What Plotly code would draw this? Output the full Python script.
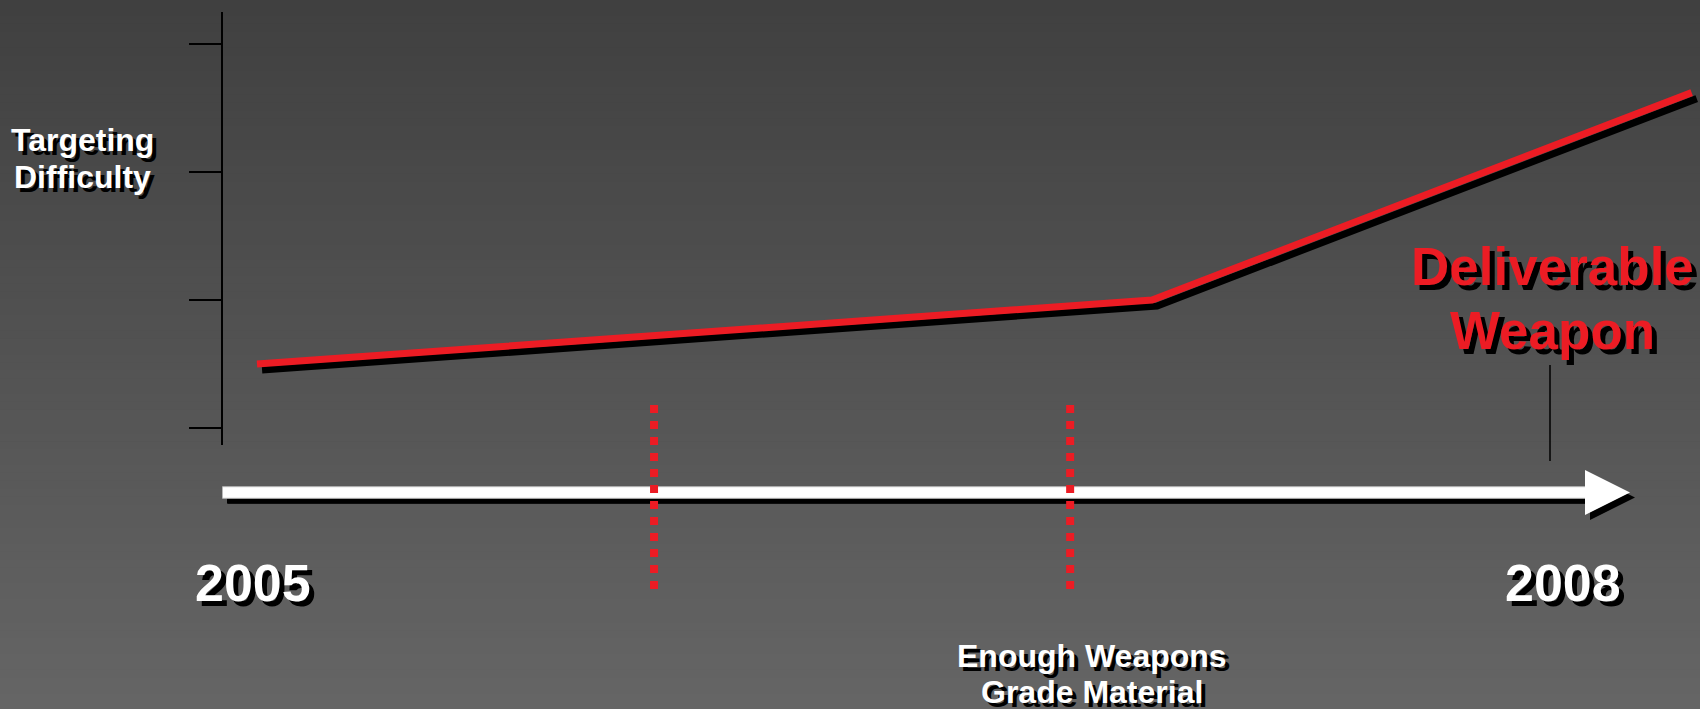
import plotly.graph_objects as go

# ---------------- data ----------------
difficulty_years = [2005.079, 2007.101, 2008.32]
difficulty_values = [0.5, 1.0, 2.62]
difficulty_ticks = [0, 1, 2, 3]
milestone_years = [2005.976, 2006.916]
deliverable_year = 2008.0
year_labels = ["2005", "2008"]
year_label_pos = [2005, 2008]
y_label_lines = ["Targeting", "Difficulty"]
milestone_label_lines = ["Enough Weapons", "Grade Material"]
deliverable_label_lines = ["Deliverable", "Weapon"]

# ---------------- layout helpers ----------------
W, H = 1700, 709
RED = "#EC1C24"
FONT = "Arial, 'Liberation Sans', sans-serif"


def fx(px):
    return px / W


def fy(py):
    return 1 - py / H


PX_PER_YEAR = 442.667
ORIGIN_PX = 222
x_left = 2005 - ORIGIN_PX / PX_PER_YEAR
x_right = 2005 + (0.997 * W - ORIGIN_PX) / PX_PER_YEAR
y_range = [-17 / 128, 416 / 128]
y_dom = [fy(445), fy(12)]
sh_dy = 6 / H

fig = go.Figure()

# shadow of the red line (same data, axes shifted a few pixels)
fig.add_trace(go.Scatter(x=difficulty_years, y=difficulty_values, mode="lines",
                         line=dict(color="black", width=7), xaxis="x", yaxis="y",
                         hoverinfo="skip"))
# red line
fig.add_trace(go.Scatter(x=difficulty_years, y=difficulty_values, mode="lines",
                         line=dict(color=RED, width=7), xaxis="x2", yaxis="y2",
                         hoverinfo="skip"))

shapes = []
# background gradient
n = 90
top, bot = (64, 64, 64), (101, 101, 101)
for i in range(n):
    t = i / (n - 1)
    c = tuple(round(top[k] + (bot[k] - top[k]) * t) for k in range(3))
    shapes.append(dict(type="rect", xref="paper", yref="paper", x0=0, x1=1,
                       y0=1 - (i + 1) / n - 0.001, y1=1 - i / n,
                       fillcolor="rgb(%d,%d,%d)" % c, line=dict(width=0), layer="below"))


# timeline arrow (shadow + white)
def arrow(dx, dy, fill, border):
    s = []
    s.append(dict(type="rect", xref="paper", yref="paper",
                  x0=fx(222.5 + dx), x1=fx(1587 + dx), y0=fy(498.3 + dy), y1=fy(486.7 + dy),
                  fillcolor=fill, line=dict(color=border, width=1), layer="above"))
    path = "M %f,%f L %f,%f L %f,%f Z" % (fx(1585 + dx), fy(470 + dy), fx(1630 + dx), fy(492.5 + dy),
                                         fx(1585 + dx), fy(515 + dy))
    s.append(dict(type="path", xref="paper", yref="paper", path=path,
                  fillcolor=fill, line=dict(width=0), layer="above"))
    return s


shapes += arrow(5, 5, "black", "black")
shapes += arrow(0, 0, "white", "#b8b8b8")

# milestone dotted lines
for yr in milestone_years:
    shapes.append(dict(type="line", xref="x2", yref="paper", x0=yr, x1=yr,
                       y0=fy(405), y1=fy(589), line=dict(color=RED, width=8, dash="8px,8px"),
                       layer="above"))
# deliverable marker line
shapes.append(dict(type="line", xref="x2", yref="paper", x0=deliverable_year, x1=deliverable_year,
                   y0=fy(365), y1=fy(461), line=dict(color="black", width=1.5), layer="above"))


def font(size, color, sh):
    return dict(family=FONT, size=size, color=color, weight="bold",
                shadow="%dpx %dpx 0px #000" % (sh, sh))


annotations = []
for txt, py in zip(y_label_lines, [140, 177]):
    annotations.append(dict(text=txt, xref="paper", yref="paper", x=fx(82), y=fy(py),
                            xanchor="center", yanchor="middle", showarrow=False,
                            font=font(32, "white", 4)))
for txt, py in zip(deliverable_label_lines, [266, 331]):
    annotations.append(dict(text=txt, xref="paper", yref="paper", x=fx(1552), y=fy(py),
                            xanchor="center", yanchor="middle", showarrow=False,
                            font=font(53, RED, 5)))
for txt, py in zip(milestone_label_lines, [656, 692]):
    annotations.append(dict(text=txt, xref="x2", yref="paper", x=milestone_years[1], xshift=22,
                            y=fy(py), xanchor="center", yanchor="middle", showarrow=False,
                            font=font(32, "white", 4)))
for lab, pos, xs in zip(year_labels, year_label_pos, [31, 13]):
    annotations.append(dict(text=lab, xref="x2", yref="paper", x=pos, xshift=xs, y=fy(583),
                            xanchor="center", yanchor="middle", showarrow=False,
                            font=font(52, "white", 5)))

fig.update_layout(
    width=W, height=H,
    margin=dict(l=0, r=0, t=0, b=0),
    paper_bgcolor="rgb(64,64,64)",
    plot_bgcolor="rgba(0,0,0,0)",
    showlegend=False,
    shapes=shapes,
    annotations=annotations,
    xaxis=dict(domain=[0.003, 1.0], range=[x_left, x_right], visible=False, fixedrange=True),
    yaxis=dict(domain=[y_dom[0] - sh_dy, y_dom[1] - sh_dy], range=y_range, visible=False,
               anchor="x", fixedrange=True),
    xaxis2=dict(domain=[0, 0.997], range=[x_left, x_right], visible=False, anchor="y2",
                fixedrange=True),
    yaxis2=dict(domain=y_dom, range=y_range, anchor="free", position=fx(ORIGIN_PX),
                showline=True, linecolor="black", linewidth=2,
                ticks="outside", ticklen=32, tickwidth=2, tickcolor="black",
                tickvals=difficulty_ticks, showticklabels=False,
                showgrid=False, zeroline=False, fixedrange=True),
)

fig.write_html("out.html", config={"displayModeBar": False},
               post_script="document.body.style.margin='0';document.body.style.overflow='hidden';")
